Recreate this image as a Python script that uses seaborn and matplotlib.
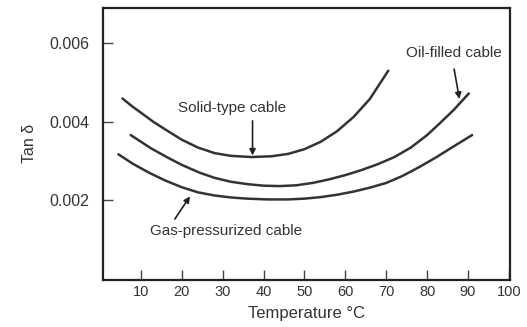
import pandas as pd
import seaborn as sns
import matplotlib.pyplot as plt

# Tan delta vs temperature

solid_x = [5.5, 8, 10, 13, 16, 20, 24, 28, 32, 37, 42, 46, 50, 54, 58, 62, 66, 70.5]
solid_y = [0.00459, 0.00438, 0.00423, 0.00400, 0.00380, 0.00354, 0.00334, 0.00320, 0.00313,
           0.00310, 0.00312, 0.00318, 0.00330, 0.00349, 0.00376, 0.00412, 0.00458, 0.00530]

oil_x = [7.5, 10, 12.5, 16.3, 20, 24.4, 28, 32, 36, 40, 44, 48, 52, 56, 60, 64, 68, 72,
         76, 80, 83, 86.5, 90.2]
oil_y = [0.00366, 0.00349, 0.00332, 0.00310, 0.00290, 0.00270, 0.00257, 0.00247, 0.00241,
         0.00237, 0.00236, 0.00238, 0.00244, 0.00253, 0.00264, 0.00277, 0.00292, 0.00310,
         0.00334, 0.00366, 0.00395, 0.00430, 0.00472]

gas_x = [4.5, 8, 12, 16, 20, 24, 28, 32, 36, 41, 46, 50, 54, 58, 62, 66, 70, 74, 78, 82,
         86, 91]
gas_y = [0.00317, 0.00293, 0.00270, 0.00250, 0.00233, 0.00220, 0.00212, 0.00207, 0.00204,
         0.00202, 0.00202, 0.00204, 0.00208, 0.00214, 0.00222, 0.00232, 0.00244, 0.00262,
         0.00284, 0.00308, 0.00334, 0.00366]

x_ticks = [10, 20, 30, 40, 50, 60, 70, 80, 90, 100]
y_ticks = [0.002, 0.004, 0.006]

df = pd.concat([
    pd.DataFrame({"temp": solid_x, "tan": solid_y, "cable": "Solid-type cable"}),
    pd.DataFrame({"temp": oil_x, "tan": oil_y, "cable": "Oil-filled cable"}),
    pd.DataFrame({"temp": gas_x, "tan": gas_y, "cable": "Gas-pressurized cable"}),
])

sns.set_theme(style="white")
plt.rcParams['font.family'] = ['Liberation Sans', 'DejaVu Sans']

fig = plt.figure(figsize=(5.27, 3.27), dpi=100)
ax = fig.add_axes([0.196, 0.144, 0.772, 0.832])

line_col = "#333333"
sns.lineplot(data=df, x="temp", y="tan", hue="cable", units="cable", estimator=None,
             palette=[line_col] * 3, linewidth=1.8, legend=False, sort=False, ax=ax)

ax.set_xlim(0.8, 100.3)
ax.set_ylim(-0.00003, 0.0069)
ax.set_xticks(x_ticks, labels=[str(t) for t in x_ticks])
ax.set_yticks(y_ticks, labels=["0.002", "0.004", "0.006"])
ax.tick_params(bottom=True, left=True, direction="in", length=7, width=1,
               color="#444444", labelcolor="#333333")
ax.tick_params(axis="x", pad=4, labelsize=10.5)
ax.tick_params(axis="y", pad=10, labelsize=11.5)
for s in ax.spines.values():
    s.set_linewidth(1.6)
    s.set_color("#222222")

ax.set_xlabel("Temperature °C", fontsize=12, color="#333333", labelpad=5)
ax.set_ylabel("Tan δ", fontsize=11.5, color="#333333", labelpad=9)

arrow = dict(arrowstyle="-|>", color="#222222", lw=1.2, mutation_scale=9,
             shrinkA=0, shrinkB=0)
txt = dict(fontsize=11, color="#333333", ha="center", va="center")
ax.annotate("", xy=(37.3, 0.00314), xytext=(37.3, 0.00402), arrowprops=arrow)
ax.text(32.4, 0.00434, "Solid-type cable", **txt)
ax.annotate("", xy=(87.9, 0.00458), xytext=(86.6, 0.00534), arrowprops=arrow)
ax.text(86.6, 0.00575, "Oil-filled cable", **txt)
ax.annotate("", xy=(22.0, 0.00210), xytext=(18.3, 0.00152), arrowprops=arrow)
ax.text(30.9, 0.00122, "Gas-pressurized cable", **txt)

plt.savefig("out.png", dpi=100)
